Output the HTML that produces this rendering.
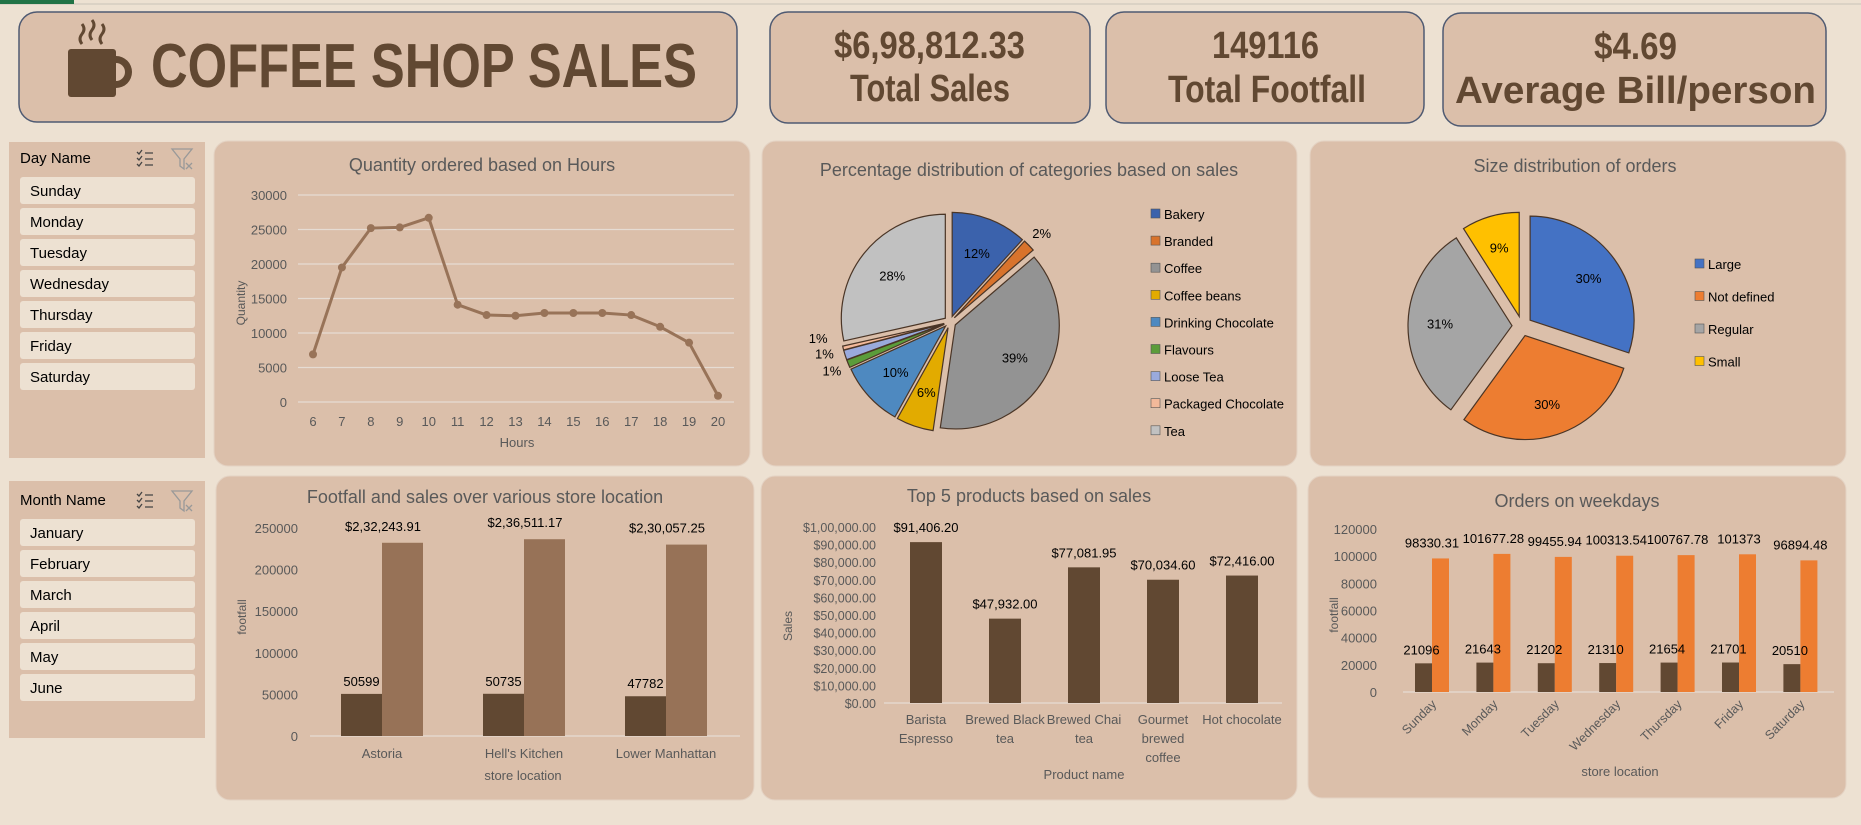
<!DOCTYPE html>
<html><head><meta charset="utf-8"><style>
html,body{margin:0;padding:0;background:#EDE1D2;}
svg{display:block;font-family:"Liberation Sans Narrow","Liberation Sans",sans-serif;}
</style></head><body>
<svg id="dash" width="1861" height="825" viewBox="0 0 1861 825" xmlns="http://www.w3.org/2000/svg">
<rect x="0" y="0" width="1861" height="825" fill="#EDE1D2"/>
<line x1="0" y1="4" x2="1861" y2="4" stroke="#c9c2b8" stroke-width="1"/>
<rect x="0" y="0" width="74" height="4" fill="#217346"/>

<!-- Title -->
<g>
<rect x="19" y="12" width="718" height="110" rx="18" fill="#DBBFAA" stroke="#4f5a72" stroke-width="1.5"/>
<g fill="#614832">
<rect x="68" y="49" width="48" height="48" rx="3"/>
<path d="M116 56 a16 16 0 0 1 0 32 l0 -7 a9 9 0 0 0 0 -18 z"/>
<path d="M82 44 q-4 -5 0 -10 q4 -5 0 -10" fill="none" stroke="#614832" stroke-width="3"/>
<path d="M92 40 q-4 -5 0 -10 q4 -5 0 -10" fill="none" stroke="#614832" stroke-width="3"/>
<path d="M102 44 q-4 -5 0 -10 q4 -5 0 -10" fill="none" stroke="#614832" stroke-width="3"/>
</g>
<text x="151" y="87" font-size="62" font-weight="bold" fill="#614832" textLength="546" lengthAdjust="spacingAndGlyphs">COFFEE SHOP SALES</text>
</g>

<!-- KPI cards -->
<g>
<rect x="770" y="12" width="320" height="111" rx="18" fill="#DBBFAA" stroke="#4f5a72" stroke-width="1.5"/>
<text x="834" y="58" font-size="38" font-weight="bold" fill="#614832" textLength="191" lengthAdjust="spacingAndGlyphs">$6,98,812.33</text>
<text x="850" y="101" font-size="38" font-weight="bold" fill="#614832" textLength="160" lengthAdjust="spacingAndGlyphs">Total Sales</text>
</g>
<g>
<rect x="1106" y="12" width="318" height="111" rx="18" fill="#DBBFAA" stroke="#4f5a72" stroke-width="1.5"/>
<text x="1212" y="58" font-size="38" font-weight="bold" fill="#614832" textLength="107" lengthAdjust="spacingAndGlyphs">149116</text>
<text x="1168" y="102" font-size="38" font-weight="bold" fill="#614832" textLength="198" lengthAdjust="spacingAndGlyphs">Total Footfall</text>
</g>
<g>
<rect x="1443" y="13" width="383" height="113" rx="18" fill="#DBBFAA" stroke="#4f5a72" stroke-width="1.5"/>
<text x="1594" y="59" font-size="38" font-weight="bold" fill="#614832" textLength="83" lengthAdjust="spacingAndGlyphs">$4.69</text>
<text x="1455" y="103" font-size="38" font-weight="bold" fill="#614832" textLength="361" lengthAdjust="spacingAndGlyphs">Average Bill/person</text>
</g>

<!-- Slicers -->
<g id="daySlicer">
<rect x="9" y="142" width="196" height="316" fill="#DBBFAA"/>
<text x="20" y="163" font-size="15" fill="#000">Day Name</text>
<g stroke="#444" stroke-width="1.3" fill="none"><path d="M137 152 l2 2 l3 -4 M137 158 l2 2 l3 -4 M137 164 l2 2 l3 -4 M145 153 h8 M145 159 h8 M145 165 h8"/></g>
<g stroke="#999" stroke-width="1.3" fill="none"><path d="M172 149 h20 l-8 10 v10 l-4 -3 v-7 z M186 163 l6 6 M192 163 l-6 6"/></g>
</g>
<g id="monthSlicer">
<rect x="9" y="481" width="196" height="257" fill="#DBBFAA"/>
<text x="20" y="505" font-size="15" fill="#000">Month Name</text>
<g stroke="#444" stroke-width="1.3" fill="none"><path d="M137 494 l2 2 l3 -4 M137 500 l2 2 l3 -4 M137 506 l2 2 l3 -4 M145 495 h8 M145 501 h8 M145 507 h8"/></g>
<g stroke="#999" stroke-width="1.3" fill="none"><path d="M172 491 h20 l-8 10 v10 l-4 -3 v-7 z M186 505 l6 6 M192 505 l-6 6"/></g>
</g>

<!-- Panels -->
<rect x="214" y="141" width="536" height="325" rx="14" fill="#DBBFAA" stroke="#e4d3c4"/>
<rect x="762" y="141" width="535" height="325" rx="14" fill="#DBBFAA" stroke="#e4d3c4"/>
<rect x="1310" y="141" width="536" height="325" rx="14" fill="#DBBFAA" stroke="#e4d3c4"/>
<rect x="216" y="476" width="538" height="324" rx="14" fill="#DBBFAA" stroke="#e4d3c4"/>
<rect x="761" y="476" width="536" height="324" rx="14" fill="#DBBFAA" stroke="#e4d3c4"/>
<rect x="1308" y="476" width="538" height="322" rx="14" fill="#DBBFAA" stroke="#e4d3c4"/>

<text x="482" y="171" font-size="18" fill="#595959" text-anchor="middle">Quantity ordered based on Hours</text>
<text x="1029" y="176" font-size="18" fill="#595959" text-anchor="middle">Percentage distribution of categories based on sales</text>
<text x="1575" y="172" font-size="18" fill="#595959" text-anchor="middle">Size distribution of orders</text>
<text x="485" y="503" font-size="18" fill="#595959" text-anchor="middle">Footfall and sales over various store location</text>
<text x="1029" y="502" font-size="18" fill="#595959" text-anchor="middle">Top 5 products based on sales</text>
<text x="1577" y="507" font-size="18" fill="#595959" text-anchor="middle">Orders on weekdays</text>

<g id="charts"></g>
</svg>
<script>
// ---- data ----
const days = ["Sunday","Monday","Tuesday","Wednesday","Thursday","Friday","Saturday"];
const months = ["January","February","March","April","May","June"];
const hours = [6,7,8,9,10,11,12,13,14,15,16,17,18,19,20];
const hourQty = [6900,19500,25200,25300,26700,14100,12600,12500,12900,12900,12900,12600,10900,8600,900];
const hourTicks = [0,5000,10000,15000,20000,25000,30000];
const categories = ["Bakery","Branded","Coffee","Coffee beans","Drinking Chocolate","Flavours","Loose Tea","Packaged Chocolate","Tea"];
const categoryShare = [11.8,1.9,38.6,5.8,10.1,1.2,1.5,0.6,28.5];
const categoryLabels = ["12%","2%","39%","6%","10%","1%","1%","1%","28%"];
const categoryColors = ["#3B62AC","#D8732C","#939393","#E2AB00","#4E89C0","#5B9C3A","#9AAADD","#F3B99A","#C1C1C1"];
const sizes = ["Large","Not defined","Regular","Small"];
const sizeShare = [30.1,29.9,31.0,9.0];
const sizeLabels = ["30%","30%","31%","9%"];
const sizeColors = ["#4472C4","#ED7D31","#A5A5A5","#FFC000"];
const stores = ["Astoria","Hell's Kitchen","Lower Manhattan"];
const storeFootfall = [50599,50735,47782];
const storeSales = [232243.91,236511.17,230057.25];
const storeSalesLabels = ["$2,32,243.91","$2,36,511.17","$2,30,057.25"];
const storeTicks = [0,50000,100000,150000,200000,250000];
const products = [["Barista","Espresso"],["Brewed Black","tea"],["Brewed Chai","tea"],["Gourmet","brewed","coffee"],["Hot chocolate"]];
const productSales = [91406.20,47932.00,77081.95,70034.60,72416.00];
const productSalesLabels = ["$91,406.20","$47,932.00","$77,081.95","$70,034.60","$72,416.00"];
const productTicks = [0,10000,20000,30000,40000,50000,60000,70000,80000,90000,100000];
const productTickLabels = ["$0.00","$10,000.00","$20,000.00","$30,000.00","$40,000.00","$50,000.00","$60,000.00","$70,000.00","$80,000.00","$90,000.00","$1,00,000.00"];
const weekdayFootfall = [21096,21643,21202,21310,21654,21701,20510];
const weekdaySales = [98330.31,101677.28,99455.94,100313.54,100767.78,101373,96894.48];
const weekdaySalesLabels = ["98330.31","101677.28","99455.94","100313.54","100767.78","101373","96894.48"];
const weekdayTicks = [0,20000,40000,60000,80000,100000,120000];

const NS="http://www.w3.org/2000/svg";
const root=document.getElementById('charts');
function mk(tag,attrs,parent){const e=document.createElementNS(NS,tag);for(const k in attrs)e.setAttribute(k,attrs[k]);(parent||root).appendChild(e);return e;}
function txt(s,attrs,parent){const e=mk('text',attrs,parent);e.textContent=s;return e;}

// ---- slicers ----
const dayG=document.getElementById('daySlicer');
days.forEach((d,i)=>{
  const r=mk('rect',{x:20,y:177+i*31,width:175,height:27,rx:3,fill:'#EDE1D2'},dayG);
  
  
  const t=txt(d,{x:30,y:196+i*31,'font-size':15,fill:'#000'},dayG);
  
  
});
const monG=document.getElementById('monthSlicer');
months.forEach((m,i)=>{
  const r=mk('rect',{x:20,y:519+i*31,width:175,height:27,rx:3,fill:'#EDE1D2'},monG);
  
  
  const t=txt(m,{x:30,y:538+i*31,'font-size':15,fill:'#000'},monG);
  
  
});

// ---- line chart ----
(function(){
  const g=mk('g',{});
  
  
  const y=v=>402-v/30000*207, x=h=>313+(h-6)*405/14;
  hourTicks.forEach(t=>{
    const l=mk('line',{x1:298,x2:734,y1:y(t),y2:y(t),stroke:'#e6dcd3','stroke-width':1.2},g);
    
    
    const tt=txt(String(t),{x:287,y:y(t)+5,'font-size':13,fill:'#595959','text-anchor':'end'},g);
    
    
  });
  hours.forEach(h=>{
    const tt=txt(String(h),{x:x(h),y:426,'font-size':13,fill:'#595959','text-anchor':'middle'},g);
    
    
  });
  const pts=hours.map((h,i)=>x(h)+','+y(hourQty[i])).join(' ');
  const pl=mk('polyline',{points:pts,fill:'none',stroke:'#987358','stroke-width':3,'stroke-linejoin':'round'},g);
  
  
  hours.forEach((h,i)=>{
    const c=mk('circle',{cx:x(h),cy:y(hourQty[i]),r:4,fill:'#987358'},g);
    
    
  });
  const xt=txt('Hours',{x:517,y:447,'font-size':13,fill:'#595959','text-anchor':'middle'},g);
  
  
  const yt=txt('Quantity',{x:0,y:0,'font-size':12,fill:'#595959','text-anchor':'middle',transform:'translate(245,303) rotate(-90)'},g);
  
  
})();

// ---- pies ----
function pie(name,cx,cy,r,vals,colors,labels,explode,labelR,smallOut){
  const g=mk('g',{});
  
  
  const tot=vals.reduce((a,b)=>a+b,0);
  let a=-Math.PI/2; let smallCount=0;
  vals.forEach((v,i)=>{
    const s=v/tot*2*Math.PI, a2=a+s, mid=a+s/2;
    const dx=Math.cos(mid)*explode, dy=Math.sin(mid)*explode;
    const ox=cx+dx, oy=cy+dy;
    const large=s>Math.PI?1:0;
    const d=`M${ox},${oy} L${ox+r*Math.cos(a)},${oy+r*Math.sin(a)} A${r},${r} 0 ${large} 1 ${ox+r*Math.cos(a2)},${oy+r*Math.sin(a2)} Z`;
    const p=mk('path',{d:d,fill:colors[i],stroke:'#4a3526','stroke-width':1.2},g);
    
    
    let lr=labelR, ly=0;
    if(smallOut && v<3){ lr=r*1.17+smallCount*4; ly=(smallCount? -smallCount*8:0); if(mid>Math.PI/2) smallCount++; }
    const t=txt(labels[i],{x:ox+lr*Math.cos(mid),y:oy+lr*Math.sin(mid)+5+ly,'font-size':13,fill:'#000','text-anchor':'middle'},g);
    
    
    a=a2;
  });
  return g;
}
pie('category-pie-chart',950,322,104,categoryShare,categoryColors,categoryLabels,6,68,true);
pie('size-pie-chart',1522,326,104,sizeShare,sizeColors,sizeLabels,10,72,false);
function legend(name,items,colors,x,y0,step){
  const g=mk('g',{});
  
  
  items.forEach((it,i)=>{
    const r=mk('rect',{x:x,y:y0+i*step-6,width:9,height:9,fill:colors[i],stroke:'#555','stroke-width':0.6},g);
    
    
    const t=txt(it,{x:x+13,y:y0+i*step+4,'font-size':13,fill:'#000'},g);
    
    
  });
}
legend('category-legend',categories,categoryColors,1151,215,27.1);
legend('size-legend',sizes,sizeColors,1695,265,32.5);

// ---- store bars ----
(function(){
  const g=mk('g',{});
  
  
  const y=v=>736-v/250000*208, cx=i=>382+i*142, bw=41;
  storeTicks.forEach(t=>{
    const tt=txt(String(t),{x:298,y:y(t)+5,'font-size':13,fill:'#595959','text-anchor':'end'},g);
    
    
  });
  mk('line',{x1:310,x2:740,y1:736,y2:736,stroke:'#e6dcd3','stroke-width':1.2},g);
  stores.forEach((s,i)=>{
    const b1=mk('rect',{x:cx(i)-bw,y:y(storeFootfall[i]),width:bw,height:736-y(storeFootfall[i]),fill:'#614832'},g);
    
    
    const b2=mk('rect',{x:cx(i),y:y(storeSales[i]),width:bw,height:736-y(storeSales[i]),fill:'#977257'},g);
    
    
    const l1=txt(String(storeFootfall[i]),{x:cx(i)-bw/2,y:y(storeFootfall[i])-8,'font-size':13,fill:'#000','text-anchor':'middle'},g);
    
    
    const l2=txt(storeSalesLabels[i],{x:cx(i)+1,y:y(storeSales[i])-12,'font-size':13,fill:'#000','text-anchor':'middle'},g);
    
    
    const c=txt(s,{x:cx(i),y:758,'font-size':13,fill:'#595959','text-anchor':'middle'},g);
    
    
  });
  const xt=txt('store location',{x:523,y:780,'font-size':13,fill:'#595959','text-anchor':'middle'},g);
  
  
  const yt=txt('footfall',{x:0,y:0,'font-size':12,fill:'#595959','text-anchor':'middle',transform:'translate(246,617) rotate(-90)'},g);
  
  
})();

// ---- top products ----
(function(){
  const g=mk('g',{});
  
  
  const y=v=>703-v/100000*176, cx=i=>926+i*79, bw=32;
  productTicks.forEach((t,i)=>{
    const tt=txt(productTickLabels[i],{x:876,y:y(t)+5,'font-size':12.5,fill:'#595959','text-anchor':'end'},g);
    
    
  });
  mk('line',{x1:884,x2:1282,y1:703,y2:703,stroke:'#e6dcd3','stroke-width':1.2},g);
  products.forEach((p,i)=>{
    const b=mk('rect',{x:cx(i)-bw/2,y:y(productSales[i]),width:bw,height:703-y(productSales[i]),fill:'#614832'},g);
    
    
    const l=txt(productSalesLabels[i],{x:cx(i),y:y(productSales[i])-10,'font-size':13,fill:'#000','text-anchor':'middle'},g);
    
    
    p.forEach((line,j)=>{
      const c=txt(line,{x:cx(i),y:724+j*19,'font-size':13,fill:'#595959','text-anchor':'middle'},g);
      
      
    });
  });
  const xt=txt('Product name',{x:1084,y:779,'font-size':13,fill:'#595959','text-anchor':'middle'},g);
  
  
  const yt=txt('Sales',{x:0,y:0,'font-size':12,fill:'#595959','text-anchor':'middle',transform:'translate(792,626) rotate(-90)'},g);
  
  
})();

// ---- weekdays ----
(function(){
  const g=mk('g',{});
  
  
  const y=v=>692-v/120000*163, cx=i=>1432+i*61.4, bw=17;
  weekdayTicks.forEach(t=>{
    const tt=txt(String(t),{x:1377,y:y(t)+5,'font-size':13,fill:'#595959','text-anchor':'end'},g);
    
    
  });
  mk('line',{x1:1403,x2:1834,y1:692,y2:692,stroke:'#e6dcd3','stroke-width':1.2},g);
  days.forEach((d,i)=>{
    const b1=mk('rect',{x:cx(i)-bw,y:y(weekdayFootfall[i]),width:bw,height:692-y(weekdayFootfall[i]),fill:'#614832'},g);
    
    
    const b2=mk('rect',{x:cx(i),y:y(weekdaySales[i]),width:bw,height:692-y(weekdaySales[i]),fill:'#ED7D31'},g);
    
    
    const l1=txt(String(weekdayFootfall[i]),{x:cx(i)-bw/2-2,y:y(weekdayFootfall[i])-9,'font-size':13,fill:'#000','text-anchor':'middle'},g);
    
    
    const l2=txt(weekdaySalesLabels[i],{x:cx(i),y:y(weekdaySales[i])-11,'font-size':13,fill:'#000','text-anchor':'middle'},g);
    
    
    const c=txt(d,{x:0,y:0,'font-size':12.5,fill:'#595959','text-anchor':'end',transform:`translate(${cx(i)+5},${705}) rotate(-45)`},g);
    
    
  });
  const xt=txt('store location',{x:1620,y:776,'font-size':13,fill:'#595959','text-anchor':'middle'},g);
  
  
  const yt=txt('footfall',{x:0,y:0,'font-size':12,fill:'#595959','text-anchor':'middle',transform:'translate(1338,615) rotate(-90)'},g);
  
  
})();
</script>
</body></html>
